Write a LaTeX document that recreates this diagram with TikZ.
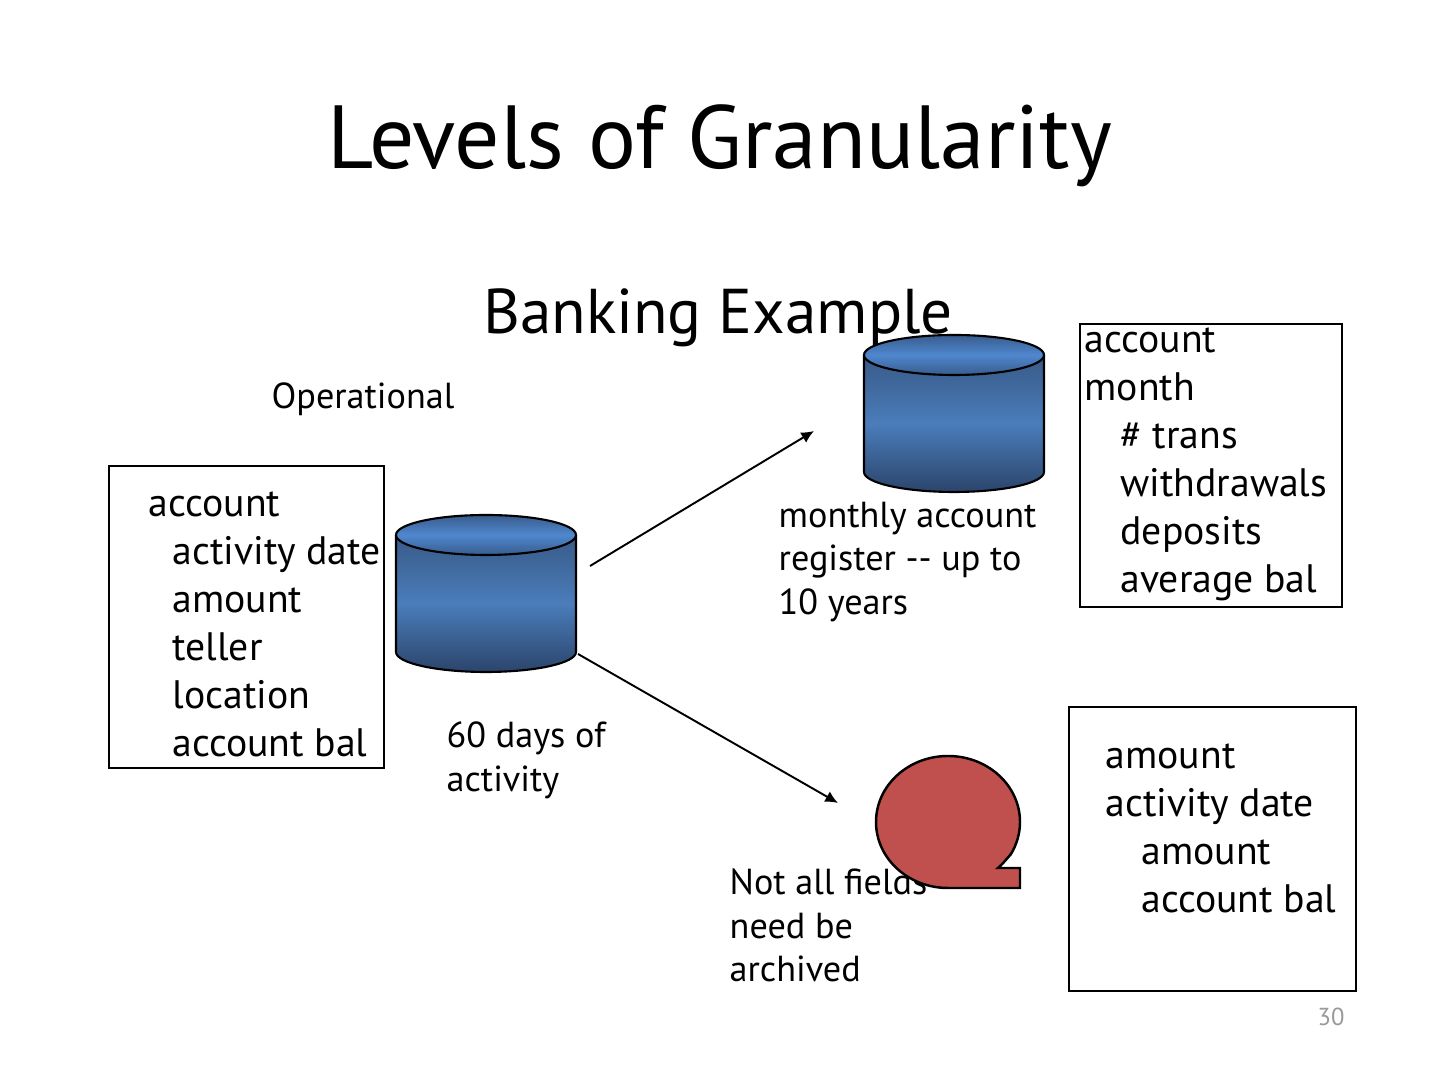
\documentclass[tikz,border=0pt]{standalone}
\usepackage{fontspec}
\setmainfont{PT Sans}
\usepackage{xcolor}
\usetikzlibrary{arrows.meta}
\definecolor{bubblered}{HTML}{C0504D}
\pgfdeclareverticalshading{cylbody}{100bp}{
  rgb(0bp)=(0.17,0.27,0.42); rgb(25bp)=(0.17,0.27,0.42);
  rgb(50bp)=(0.29,0.49,0.73); rgb(75bp)=(0.22,0.35,0.53); rgb(100bp)=(0.22,0.35,0.53)}
\pgfdeclareverticalshading{cylcap}{100bp}{
  rgb(0bp)=(0.22,0.36,0.55); rgb(25bp)=(0.22,0.36,0.55);
  rgb(50bp)=(0.31,0.53,0.81); rgb(75bp)=(0.22,0.36,0.55); rgb(100bp)=(0.22,0.36,0.55)}
\tikzset{
  plainbox/.style={draw,line width=0.45pt,anchor=north west,inner sep=0pt},
  listtext/.style={anchor=north west,inner sep=0pt,align=left,font=\fontsize{11.3}{13.66}\selectfont},
  notetext/.style={anchor=north west,inner sep=0pt,align=left,font=\fontsize{10.3}{12.4}\selectfont},
  flowline/.style={-{Latex[length=3.6pt,width=3.4pt]},line width=0.55pt}
}

\begin{document}
\begin{tikzpicture}[scale=1]
\useasboundingbox (0,0) rectangle (14.4,10.8);

\node (title) at (7.2,9.34) {\fontsize{25.5}{29}\selectfont Levels of Granularity};
\node (subtitle) at (7.18,7.62) {\fontsize{18}{21}\selectfont Banking Example};
\node[notetext] (operational) at (2.71,6.98) {Operational};
\node[notetext] (activitynote) at (4.46,3.59) {60 days of\\activity};
\node[notetext] (registernote) at (7.78,5.79) {monthly account\\register -{}- up to\\10 years};
\node[notetext] (archivenote) at (7.29,2.12) {Not all fields\\need be\\archived};

\node[plainbox,minimum width=2.75cm,minimum height=3.02cm] (leftbox) at (1.08,6.15) {};
\node[plainbox,minimum width=2.62cm,minimum height=2.83cm] (topbox) at (10.79,7.57) {};
\node[plainbox,minimum width=2.87cm,minimum height=2.84cm] (lowbox) at (10.68,3.74) {};

\node[listtext] (lefttext) at (1.48,5.89) {account\\\hspace*{0.6em}activity date\\\hspace*{0.6em}amount\\\hspace*{0.6em}teller\\\hspace*{0.6em}location\\\hspace*{0.6em}account bal};
\node[listtext] (toptext) at (10.84,7.53) {account\\month\\\hspace*{0.9em}\# trans\\\hspace*{0.9em}withdrawals\\\hspace*{0.9em}deposits\\\hspace*{0.9em}average bal};
\node[listtext] (lowtext) at (11.05,3.37) {amount\\activity date\\\hspace*{0.9em}amount\\\hspace*{0.9em}account bal};

% the two tables
\foreach \cx/\cy in {4.86/5.45,9.54/7.25}
{
\shade[shading=cylbody] (\cx-0.9,\cy) -- (\cx-0.9,\cy-1.17) arc (180:360:0.9 and 0.2) -- (\cx+0.9,\cy) -- cycle;
\draw[line width=0.6pt] (\cx-0.9,\cy) -- (\cx-0.9,\cy-1.17) arc (180:360:0.9 and 0.2) -- (\cx+0.9,\cy);
\draw[line width=0.6pt,shading=cylcap] (\cx,\cy) ellipse (0.9 and 0.2);
}

% the archive
\draw[line width=0.7pt,fill=bubblered] (9.48,1.92) arc (270:90:0.72 and 0.66) arc (90:-30:0.72 and 0.66) .. controls (10.12,2.28) and (10.05,2.18) .. (9.98,2.12) -- (10.20,2.12) -- (10.20,1.92) -- cycle;

\coordinate (opstart) at (5.90,5.14);
\coordinate (regend) at (8.14,6.49);
\coordinate (arcstart) at (5.78,4.26);
\coordinate (arcend) at (8.38,2.77);
\draw[flowline] (opstart)--(regend);
\draw[flowline] (arcstart)--(arcend);

\node[text=black!40,font=\fontsize{7}{8}\selectfont] (pagenum) at (13.31,0.63) {30};
\end{tikzpicture}
\end{document}
